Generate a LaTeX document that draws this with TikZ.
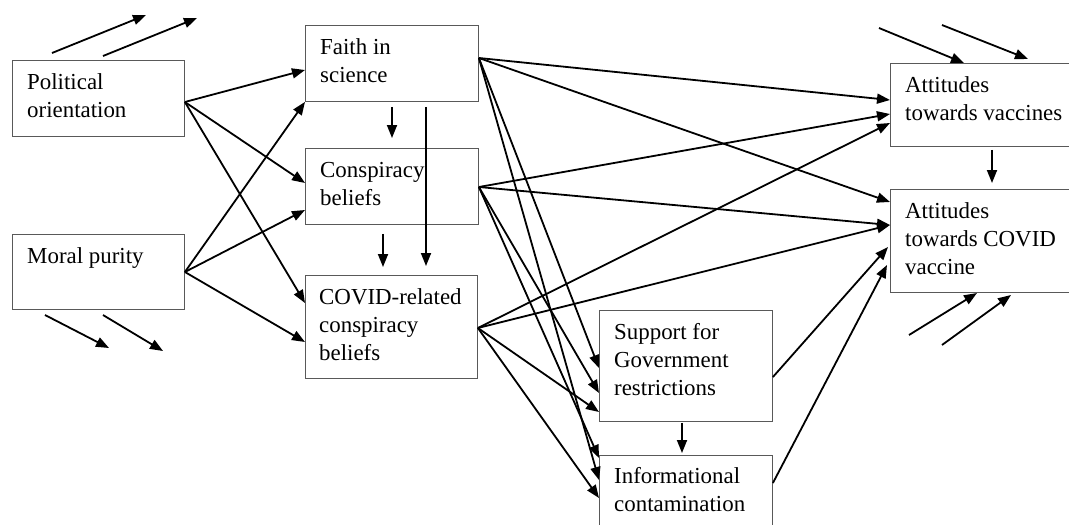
\documentclass[tikz,border=0pt]{standalone}
\usepackage{fontspec}
\setmainfont{Liberation Serif}
\usetikzlibrary{arrows.meta}
\begin{document}
\begin{tikzpicture}[x=1pt,y=-1pt,
  box/.style={draw=black!65, line width=0.9pt, rectangle, inner sep=0pt, anchor=north west},
  txt/.style={anchor=base west, inner sep=0pt, font=\fontsize{22.9}{28}\selectfont},
  arr/.style={line width=1.8pt, -{Triangle[length=13pt,width=10pt]}},
]
\useasboundingbox (0,0) rectangle (1069,525);
\clip (0,0) rectangle (1069,525);

% boxes
\node[box, minimum width=172pt, minimum height=76pt] (po) at (12,60) {};
\node[box, minimum width=172pt, minimum height=75pt] (mp) at (12,234) {};
\node[box, minimum width=173pt, minimum height=76pt] (fs) at (305,25) {};
\node[box, minimum width=173pt, minimum height=76pt] (cb) at (305,148) {};
\node[box, minimum width=172pt, minimum height=103pt] (cr) at (305,275) {};
\node[box, minimum width=173pt, minimum height=111pt] (sg) at (599,310) {};
\node[box, minimum width=173pt, minimum height=95pt] (ic) at (599,455) {};
\node[box, minimum width=181pt, minimum height=83pt] (av) at (890,63) {};
\node[box, minimum width=181pt, minimum height=103pt] (ac) at (890,189) {};

% texts
\node[txt] (po-t) at ([shift={(15,29)}]po.north west) {\begin{tabular}[t]{@{}l@{}}Political\\orientation\end{tabular}};
\node[txt] (mp-t) at ([shift={(15,29)}]mp.north west) {\begin{tabular}[t]{@{}l@{}}Moral purity\end{tabular}};
\node[txt] (fs-t) at ([shift={(15,29)}]fs.north west) {\begin{tabular}[t]{@{}l@{}}Faith in\\science\end{tabular}};
\node[txt] (cb-t) at ([shift={(15,29)}]cb.north west) {\begin{tabular}[t]{@{}l@{}}Conspiracy\\beliefs\end{tabular}};
\node[txt] (cr-t) at ([shift={(14,29)}]cr.north west) {\begin{tabular}[t]{@{}l@{}}COVID-related\\conspiracy\\beliefs\end{tabular}};
\node[txt] (sg-t) at ([shift={(15,29)}]sg.north west) {\begin{tabular}[t]{@{}l@{}}Support for\\Government\\restrictions\end{tabular}};
\node[txt] (ic-t) at ([shift={(15,28)}]ic.north west) {\begin{tabular}[t]{@{}l@{}}Informational\\contamination\end{tabular}};
\node[txt] (av-t) at ([shift={(15,29)}]av.north west) {\begin{tabular}[t]{@{}l@{}}Attitudes\\towards vaccines\end{tabular}};
\node[txt] (ac-t) at ([shift={(15,29)}]ac.north west) {\begin{tabular}[t]{@{}l@{}}Attitudes\\towards COVID\\vaccine\end{tabular}};

% predictors -> first layer
\draw[arr] ([shift={(0,42)}]po.north east) -- ([shift={(0,45)}]fs.north west);
\draw[arr] ([shift={(0,42)}]po.north east) -- ([shift={(0,35)}]cb.north west);
\draw[arr] ([shift={(0,42)}]po.north east) -- ([shift={(0,28)}]cr.north west);
\draw[arr] ([shift={(0,38)}]mp.north east) -- (fs.south west);
\draw[arr] ([shift={(0,38)}]mp.north east) -- ([shift={(0,62)}]cb.north west);
\draw[arr] ([shift={(0,38)}]mp.north east) -- ([shift={(0,67)}]cr.north west);

% vertical arrows
\draw[arr] ([shift={(87,5)}]fs.south west) -- ([shift={(87,-10)}]cb.north west);
\draw[arr] ([shift={(121,5)}]fs.south west) -- ([shift={(121,-9)}]cr.north west);
\draw[arr] ([shift={(78,9)}]cb.south west) -- ([shift={(78,-8)}]cr.north west);
\draw[arr] ([shift={(83,1)}]sg.south west) -- ([shift={(83,-2)}]ic.north west);
\draw[arr] ([shift={(102,3)}]av.south west) -- ([shift={(102,-6)}]ac.north west);

% faith in science
\draw[arr] ([shift={(0,33)}]fs.north east) -- ([shift={(0,37)}]av.north west);
\draw[arr] ([shift={(0,33)}]fs.north east) -- ([shift={(0,13)}]ac.north west);
\draw[arr] ([shift={(0,33)}]fs.north east) -- ([shift={(0,58)}]sg.north west);
\draw[arr] ([shift={(0,33)}]fs.north east) -- ([shift={(0,25)}]ic.north west);
% conspiracy beliefs
\draw[arr] ([shift={(0,39)}]cb.north east) -- ([shift={(0,51)}]av.north west);
\draw[arr] ([shift={(0,39)}]cb.north east) -- ([shift={(0,36)}]ac.north west);
\draw[arr] ([shift={(0,39)}]cb.north east) -- ([shift={(0,83)}]sg.north west);
\draw[arr] ([shift={(0,39)}]cb.north east) -- ([shift={(0,3)}]ic.north west);
% covid-related
\draw[arr] ([shift={(0,53)}]cr.north east) -- ([shift={(0,60)}]av.north west);
\draw[arr] ([shift={(0,53)}]cr.north east) -- ([shift={(0,36)}]ac.north west);
\draw[arr] ([shift={(0,53)}]cr.north east) -- ([shift={(0,102)}]sg.north west);
\draw[arr] ([shift={(0,53)}]cr.north east) -- ([shift={(0,43)}]ic.north west);
% mediators -> covid vaccine
\draw[arr] ([shift={(0,67)}]sg.north east) -- ([shift={(-2,58)}]ac.north west);
\draw[arr] ([shift={(0,28)}]ic.north east) -- ([shift={(-3,76)}]ac.north west);

% error terms
\coordinate (e1a) at (52,53);   \coordinate (e1b) at (146,15);
\coordinate (e2a) at (103,56);  \coordinate (e2b) at (197,18);
\coordinate (e3a) at (45,315);  \coordinate (e3b) at (109,348);
\coordinate (e4a) at (103,315); \coordinate (e4b) at (163,351);
\coordinate (e5a) at (879,28);  \coordinate (e5b) at (964,63);
\coordinate (e6a) at (942,25);  \coordinate (e6b) at (1028,59);
\coordinate (e7a) at (909,335); \coordinate (e7b) at (977,293);
\coordinate (e8a) at (942,345); \coordinate (e8b) at (1011,295);
\foreach \i in {1,...,8} {\draw[arr] (e\i a) -- (e\i b);}
\end{tikzpicture}
\end{document}
